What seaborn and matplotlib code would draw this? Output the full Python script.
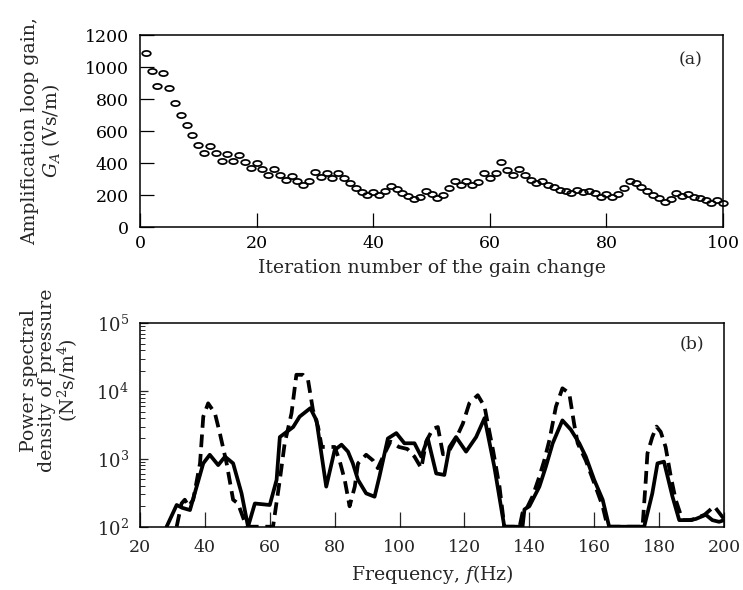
import numpy as np
import pandas as pd
import matplotlib
matplotlib.use("Agg")
import matplotlib.pyplot as plt
import seaborn as sns
from matplotlib.path import Path
from matplotlib.ticker import LogLocator, FixedLocator, NullFormatter

# ---------------- data ----------------
gain_iter = list(range(1, 101))
gain_values = [1085, 975, 880, 962, 867, 777, 698, 635, 573, 510,
               465, 506, 460, 412, 454, 412, 450, 406, 367, 402,
               360, 325, 360, 325, 294, 321, 287, 262, 287, 343,
               310, 337, 309, 337, 305, 274, 246, 221, 200, 221,
               200, 225, 259, 236, 215, 194, 173, 189, 227, 206,
               183, 200, 242, 290, 263, 288, 263, 284, 337, 309,
               337, 404, 358, 326, 362, 326, 293, 276, 290, 263,
               249, 232, 227, 215, 232, 217, 227, 211, 189, 206,
               189, 206, 242, 290, 274, 249, 227, 200, 179, 158,
               173, 211, 194, 206, 189, 179, 168, 152, 168, 152]

solid_f = [28.2, 31.3, 33.0, 35.4, 39.5, 41.5, 44.1, 46.2, 48.7, 51.3,
           53.3, 55.4, 60.0, 62.1, 63.1, 67.2, 69.2, 72.5, 74.4, 77.4,
           80.0, 82.1, 84.1, 85.6, 87.2, 89.7, 92.3, 93.8, 96.4, 99.0,
           101.5, 104.6, 106.7, 108.7, 111.3, 113.8, 115.4, 117.4, 120.5, 123.6,
           126.2, 129.2, 132.3, 137.9, 138.5, 140.0, 143.1, 145.1, 147.2, 150.2,
           152.8, 155.4, 157.4, 160.0, 162.6, 164.6, 175.4, 177.9, 179.5, 181.5,
           184.1, 186.2, 189.2, 191.3, 194.4, 196.4, 198.5, 200.0]
solid_psd = [100, 209, 190, 176, 860, 1150, 810, 1080, 860, 310,
             100, 220, 209, 490, 2100, 2950, 4200, 5600, 3700, 390,
             1350, 1620, 1280, 860, 490, 310, 277, 550, 2000, 2400,
             1700, 1700, 1080, 2000, 610, 580, 1500, 2100, 1280, 2100,
             4000, 770, 100, 100, 180, 200, 390, 770, 1700, 3700,
             2700, 1700, 1080, 490, 250, 100, 100, 310, 860, 910,
             280, 125, 125, 130, 150, 125, 118, 125]

dash_f = [31.3, 32.8, 33.8, 35.0, 36.4, 38.5, 39.5, 41.0, 43.1, 44.6,
          46.7, 48.7, 50.2, 52.8, 61.0, 63.1, 64.6, 66.7, 68.2, 70.2,
          71.8, 73.3, 74.9, 76.0, 80.0, 81.5, 83.1, 84.6, 86.2, 87.2,
          89.7, 91.8, 93.3, 95.0, 97.2, 99.8, 102.4, 104.6, 106.7, 108.2,
          110.3, 111.8, 113.4, 115.4, 117.4, 119.5, 121.5, 124.1, 126.2, 127.2,
          128.8, 130.8, 132.3, 137.0, 137.9, 139.0, 141.0, 143.1, 144.6, 146.2,
          148.2, 150.2, 152.3, 153.8, 154.9, 157.4, 160.0, 162.6, 164.1, 174.9,
          175.9, 176.4, 177.9, 179.2, 180.5, 182.0, 183.6, 185.1, 187.2, 190.0,
          194.0, 197.0, 200.0]
dash_psd = [100, 220, 250, 200, 250, 860, 4200, 6600, 4700, 2400,
            860, 250, 220, 100, 100, 490, 1700, 4700, 17400, 17400,
            14500, 5300, 2950, 1500, 1500, 950, 490, 200, 390, 860,
            1150, 950, 730, 1100, 1800, 1500, 1400, 1080, 730, 1800,
            2800, 2950, 1170, 1350, 2000, 3300, 6600, 8700, 5900, 3300,
            1350, 390, 100, 100, 160, 178, 280, 550, 950, 1900,
            5900, 11000, 9300, 3300, 1700, 950, 440, 200, 100, 100,
            490, 1200, 2100, 3000, 2500, 1500, 550, 250, 125, 125,
            150, 200, 130]

gain_xticks = [0, 20, 40, 60, 80, 100]
gain_yticks = [0, 200, 400, 600, 800, 1000, 1200]
freq_xticks = [20, 40, 60, 80, 100, 120, 140, 160, 180, 200]

# ---------------- style ----------------
sns.set_style("ticks")
plt.rcParams["font.family"] = ["DejaVu Serif"]
plt.rcParams["mathtext.fontset"] = "dejavuserif"
plt.rcParams["axes.linewidth"] = 1.1
FS = 12.5     # tick labels
FL = 13.6     # axis labels

fig = plt.figure(figsize=(7.43, 5.90), dpi=100)
ax1 = fig.add_axes([140 / 743, 1 - 227 / 590, 583 / 743, 192 / 590])
ax2 = fig.add_axes([140 / 743, 1 - 526.7 / 590, 584 / 743, 203.4 / 590])

# ---------------- top panel ----------------
ellipse = Path.unit_circle().transformed(matplotlib.transforms.Affine2D().scale(1.0, 0.6))
df_gain = pd.DataFrame({"iter": gain_iter, "gain": gain_values})
sns.lineplot(data=df_gain, x="iter", y="gain", ax=ax1, estimator=None,
             linestyle="", marker=ellipse, markersize=6.2,
             markerfacecolor="none", markeredgecolor="black",
             markeredgewidth=1.25, color="black", clip_on=False)
ax1.set_xlim(0, 100)
ax1.set_ylim(0, 1200)
ax1.xaxis.set_major_locator(FixedLocator(gain_xticks))
ax1.yaxis.set_major_locator(FixedLocator(gain_yticks))
ax1.tick_params(axis="both", direction="in", length=10, width=0.9,
                labelsize=FS, top=False, right=False, colors="black")
ax1.tick_params(axis="x", pad=6)
ax1.tick_params(axis="y", pad=8)
ax1.set_xlabel("Iteration number of the gain change", fontsize=FL, labelpad=5)
ax1.set_ylabel("Amplification loop gain,\n$G_A$ (Vs/m)", fontsize=FL,
               linespacing=1.05)
ax1.yaxis.set_label_coords(-0.134, 0.5)
ax1.text(0.945, 0.87, "(a)", transform=ax1.transAxes, fontsize=FS,
         ha="center", va="center")
for s in ax1.spines.values():
    s.set_visible(True)
    s.set_color("black")

# ---------------- bottom panel ----------------
df_s = pd.DataFrame({"f": solid_f, "psd": solid_psd})
df_d = pd.DataFrame({"f": dash_f, "psd": dash_psd})
sns.lineplot(data=df_s, x="f", y="psd", ax=ax2, estimator=None, sort=False,
             color="black", linewidth=2.7)
sns.lineplot(data=df_d, x="f", y="psd", ax=ax2, estimator=None, sort=False,
             color="black", linewidth=2.7, dashes=False)
ax2.lines[-1].set_dashes((3.4, 1.8))
ax2.set_yscale("log")
ax2.set_xlim(20, 200)
ax2.set_ylim(1e2, 1e5)
ax2.xaxis.set_major_locator(FixedLocator(freq_xticks))
ax2.yaxis.set_major_locator(LogLocator(base=10, numticks=10))
ax2.yaxis.set_minor_locator(LogLocator(base=10, subs=np.arange(2, 10), numticks=20))
ax2.yaxis.set_minor_formatter(NullFormatter())
ax2.tick_params(axis="x", direction="in", length=11, width=0.9,
                labelsize=FS, top=False, pad=9)
ax2.tick_params(axis="y", which="major", direction="in", length=6, width=0.9,
                labelsize=FS + 0.5, right=False, pad=8)
ax2.tick_params(axis="y", which="minor", direction="in", length=3.5, width=0.7,
                right=False, left=True)
ax2.set_xlabel("Frequency, $f$(Hz)", fontsize=FL, labelpad=5)
ax2.set_ylabel("Power spectral\ndensity of pressure\n(N$^2$s/m$^4$)",
               fontsize=FL, linespacing=1.0)
ax2.yaxis.set_label_coords(-0.103, 0.72)
ax2.text(0.945, 0.9, "(b)", transform=ax2.transAxes, fontsize=FS,
         ha="center", va="center")
for s in ax2.spines.values():
    s.set_visible(True)
    s.set_color("black")

fig.savefig("out.png", dpi=100)
